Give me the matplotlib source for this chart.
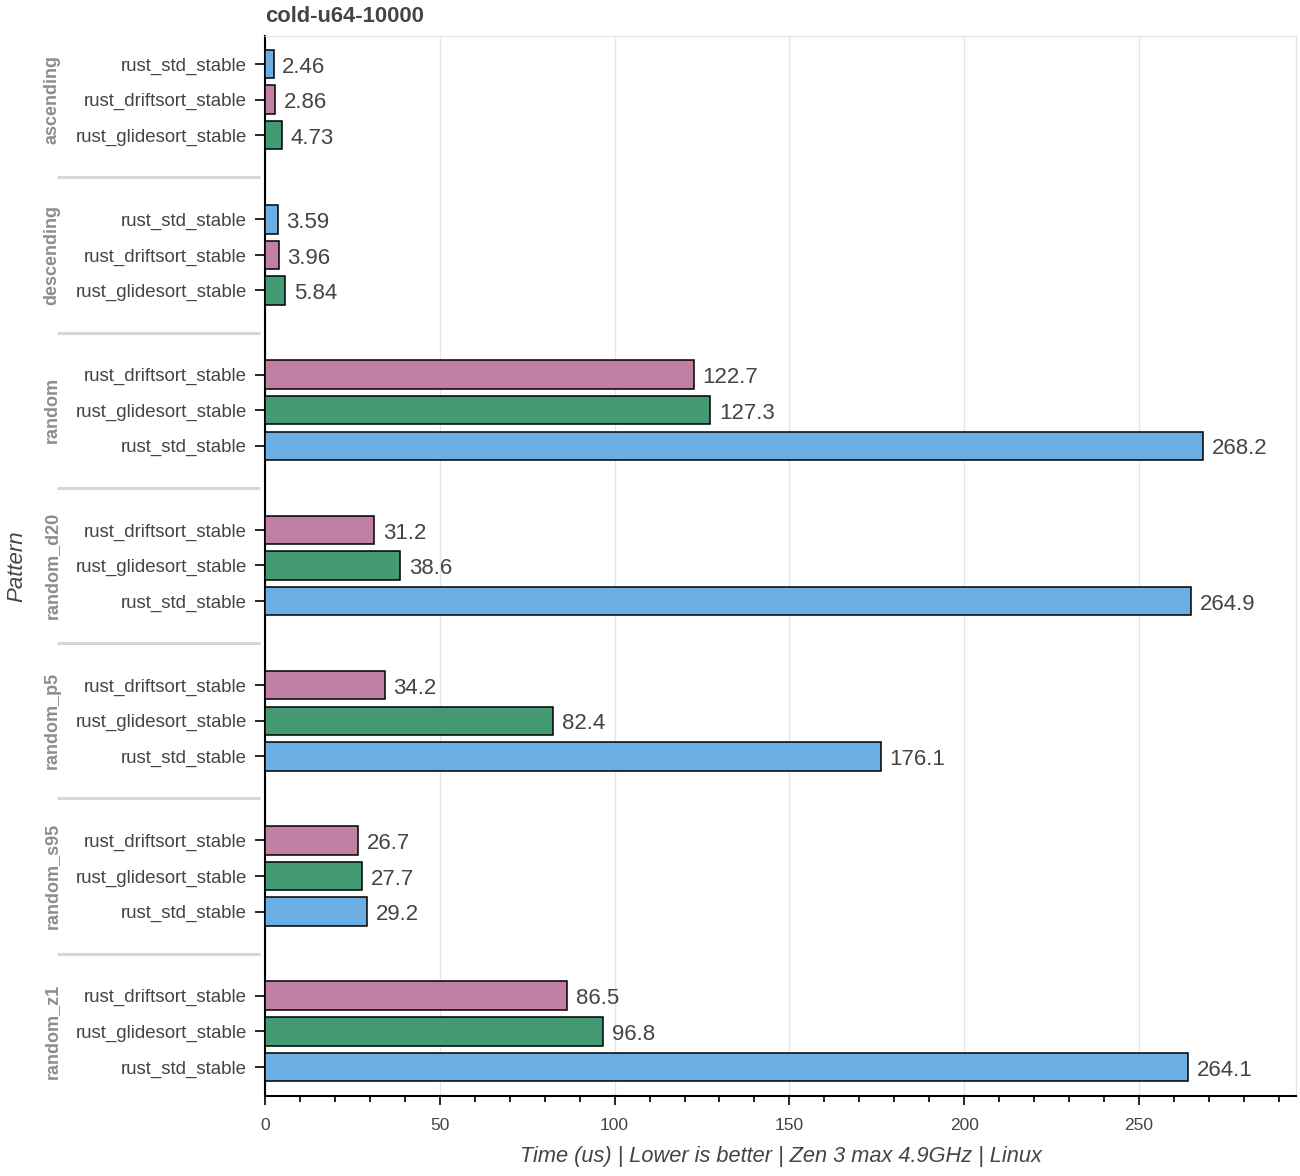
import numpy as np
import matplotlib as mpl
import matplotlib.pyplot as plt
import matplotlib.transforms as mtransforms
from matplotlib.ticker import MultipleLocator

mpl.use('Agg')
plt.rcParams['font.family'] = ['Liberation Sans', 'DejaVu Sans']

patterns = ['ascending', 'descending', 'random', 'random_d20', 'random_p5', 'random_s95', 'random_z1']
algos = ['rust_std_stable', 'rust_driftsort_stable', 'rust_glidesort_stable']
std_vals = [2.46, 3.59, 268.2, 264.9, 176.1, 29.2, 264.1]
drift_vals = [2.86, 3.96, 122.7, 31.2, 34.2, 26.7, 86.5]
glide_vals = [4.73, 5.84, 127.3, 38.6, 82.4, 27.7, 96.8]

colors = {
    'rust_std_stable': '#6baee3',
    'rust_driftsort_stable': '#c17fa5',
    'rust_glidesort_stable': '#449b73',
}
txt = '#444444'

fig = plt.figure(figsize=(13, 11.76), dpi=100)
ax = fig.add_axes([265 / 1300, 1 - 1096 / 1176, 1031 / 1300, 1060 / 1176])

step = 4.366
ypos, ylabels = [], []
for g, pat in enumerate(patterns):
    vals = {'rust_std_stable': std_vals[g],
            'rust_driftsort_stable': drift_vals[g],
            'rust_glidesort_stable': glide_vals[g]}
    order = sorted(algos, key=lambda a: vals[a])
    for j, a in enumerate(order):
        y = g * step + j
        v = vals[a]
        ax.barh(y, v, height=0.8, color=colors[a], edgecolor='black', linewidth=1.1, zorder=3)
        s = '%.2f' % v if v < 10 else '%.1f' % v
        ax.text(v + 2.5, y + 0.09, s, va='center', ha='left', fontsize=16, color=txt)
        ypos.append(y)
        ylabels.append(a)

ax.set_ylim(6 * step + 2 + 0.82, -0.79)
ax.set_xlim(0, 294.9)

ax.set_yticks(ypos)
ax.set_yticklabels(ylabels, fontsize=13.4, color=txt)
ax.tick_params(axis='y', direction='out', length=7, width=1.2, pad=6)

ax.xaxis.set_major_locator(MultipleLocator(50))
ax.xaxis.set_minor_locator(MultipleLocator(10))
ax.tick_params(axis='x', which='major', direction='out', length=6.5, width=1.2, labelsize=12.5,
               labelcolor=txt, pad=9)
ax.tick_params(axis='x', which='minor', direction='out', length=4.5, width=1.2)
ax.grid(axis='x', color='#e6e6e6', linewidth=1, zorder=0)

for side in ['left', 'bottom']:
    ax.spines[side].set_linewidth(1.5)
    ax.spines[side].set_color('black')
for side in ['top', 'right']:
    ax.spines[side].set_linewidth(1)
    ax.spines[side].set_color('#e6e6e6')

# group labels and separators
trans = mtransforms.blended_transform_factory(ax.transAxes, ax.transData)
for g, pat in enumerate(patterns):
    ax.text(-213 / 1031, g * step + 1, pat, rotation=90, transform=trans, ha='center', va='center',
            fontsize=13, fontweight='bold', color='#8c8c8c')
    if g < len(patterns) - 1:
        ysep = g * step + 3.183
        ax.plot([-208 / 1031, -5 / 1031], [ysep, ysep], transform=trans, color='#d6d6d6',
                linewidth=2.2, clip_on=False, solid_capstyle='butt')

ax.set_xlabel('Time (us) | Lower is better | Zen 3 max 4.9GHz | Linux', fontsize=15.7,
              style='italic', color=txt, labelpad=10)
fig.text(17 / 1300, 1 - 566 / 1176, 'Pattern', rotation=90, fontsize=16, style='italic',
         color=txt, ha='center', va='center')
fig.text(265 / 1300, 1 - 16 / 1176, 'cold-u64-10000', fontsize=15.8, fontweight='bold',
         color=txt, ha='left', va='center')

fig.savefig('out.png', dpi=100)
